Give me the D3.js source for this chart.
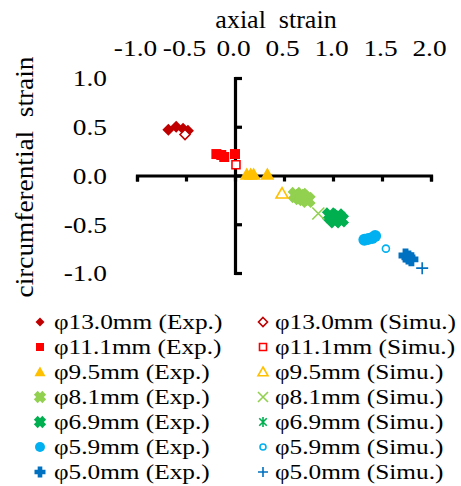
<!DOCTYPE html>
<html><head><meta charset="utf-8">
<script src="https://cdn.jsdelivr.net/npm/d3@7"></script>
<style>
#c text { font-family: "Liberation Serif", "Times New Roman", serif !important; }
</style>
</head>
<body style="margin:0;background:#fff"><svg id="c" width="461" height="486"></svg>
<script>
const seriesNames = ["φ13.0mm","φ11.1mm","φ9.5mm","φ8.1mm","φ6.9mm","φ5.9mm","φ5.0mm"];
const seriesColors = ["#C00000","#FF0000","#FFC000","#92D050","#00B050","#00B0F0","#0070C0"];
const expShapes = ["diamond","square","triangle","boldX","boldX","circle","boldPlus"];
const simShapes = ["diamond","square","triangle","x","asterisk","circle","plus"];
const expData = [
  [[-0.68,0.47],[-0.60,0.50],[-0.53,0.48],[-0.48,0.46]],
  [[-0.19,0.22],[-0.14,0.21],[-0.11,0.19],[0.00,0.22]],
  [[0.12,0.01],[0.16,0.01],[0.19,0.01],[0.33,0.01]],
  [[0.62,-0.20],[0.66,-0.22],[0.70,-0.23],[0.74,-0.25],[0.68,-0.21]],
  [[0.97,-0.41],[1.01,-0.44],[1.05,-0.42],[1.08,-0.45],[1.02,-0.46]],
  [[1.32,-0.66],[1.36,-0.65],[1.40,-0.64],[1.43,-0.62]],
  [[1.74,-0.82],[1.77,-0.84],[1.80,-0.86]]
];
const simData = [
  [[-0.51,0.42]],
  [[0.01,0.11]],
  [[0.48,-0.185]],
  [[0.85,-0.39]],
  [[1.05,-0.45]],
  [[1.54,-0.75]],
  [[1.91,-0.95]]
];
const xTicks = [-1.0,-0.5,0.0,0.5,1.0,1.5,2.0];
const yTicks = [1.0,0.5,0.0,-0.5,-1.0];
const xTitle = "axial\u00A0 strain";
const yTitle = "circumferential\u00A0 strain";
const expLabel = " (Exp.)";
const simLabel = " (Simu.)";

const FONT = "'Liberation Serif', 'Times New Roman', serif";
const svg = d3.select("#c");
const x = d3.scaleLinear().domain([-1,2]).range([137,431]);
const y = d3.scaleLinear().domain([-1,1]).range([273,78]);
const fmt = d => d3.format(".1f")(d).replace("\u2212","-");

function styleText(sel, size){
  sel.attr("font-family",FONT).style("font-family",FONT).attr("font-size",size).attr("fill","#000");
  return sel;
}

function shapePath(kind, s){
  switch(kind){
    case "diamond": return `M0,${-s}L${s},0L0,${s}L${-s},0Z`;
    case "square": return `M${-s},${-s}H${s}V${s}H${-s}Z`;
    case "triangle": return `M0,${-s}L${s},${s*0.75}L${-s},${s*0.75}Z`;
    case "circle": return `M${s},0A${s},${s},0,1,1,${-s},0A${s},${s},0,1,1,${s},0Z`;
    case "boldX": {
      const w=s*0.45;
      const pts=[[-w,-s],[w,-s],[w,-w],[s,-w],[s,w],[w,w],[w,s],[-w,s],[-w,w],[-s,w],[-s,-w],[-w,-w]];
      const a=Math.PI/4;
      return "M"+pts.map(([px,py])=>[(px*Math.cos(a)-py*Math.sin(a)).toFixed(2),(px*Math.sin(a)+py*Math.cos(a)).toFixed(2)].join(",")).join("L")+"Z";
    }
    case "boldPlus": {
      const w=s*0.42;
      const pts=[[-w,-s],[w,-s],[w,-w],[s,-w],[s,w],[w,w],[w,s],[-w,s],[-w,w],[-s,w],[-s,-w],[-w,-w]];
      return "M"+pts.map(p=>p.join(",")).join("L")+"Z";
    }
    case "x": return `M${-s},${-s}L${s},${s}M${s},${-s}L${-s},${s}`;
    case "plus": return `M${-s},0L${s},0M0,${-s}L0,${s}`;
    case "asterisk": return `M${-s*0.75},${-s*0.75}L${s*0.75},${s*0.75}M${s*0.75},${-s*0.75}L${-s*0.75},${s*0.75}M0,${-s}L0,${s}`;
  }
}
const filledKinds = new Set(["diamond","square","triangle","circle","boldX","boldPlus"]);
const expSize = {diamond:6,square:5,triangle:7,circle:6,boldX:8,boldPlus:7};
const simSize = {diamond:5,square:4,triangle:6,circle:3.5,x:6,asterisk:6,plus:6};
const legExpSize = {diamond:4.5,square:4,triangle:5.5,circle:5,boldX:6,boldPlus:5.5};
const legSimSize = {diamond:4.5,square:3.5,triangle:5,circle:3,x:5,asterisk:5,plus:5};

function drawMarker(g, kind, s, color, filled){
  const p = g.append("path").attr("d", shapePath(kind,s));
  if(filled) p.attr("fill",color).attr("stroke","none");
  else p.attr("fill","#fff").attr("stroke",color).attr("stroke-width",1.6);
  if(!filledKinds.has(kind)) p.attr("fill","none");
}

// axes
const xAxis = svg.append("g").attr("transform",`translate(0,${y(0)})`)
  .call(d3.axisBottom(x).tickValues(xTicks).tickSize(6).tickSizeOuter(6).tickFormat(""));
const yAxis = svg.append("g").attr("transform",`translate(${x(0)},0)`)
  .call(d3.axisRight(y).tickValues(yTicks).tickSize(7).tickSizeOuter(7).tickFormat(""));
[xAxis,yAxis].forEach(a=>{
  a.selectAll("path,line").attr("stroke","#000").attr("stroke-width",3.2);
});

// tick labels
const xLab = svg.append("g").attr("transform","translate(-2,56)")
  .call(d3.axisTop(x).tickValues(xTicks).tickSize(0).tickPadding(0).tickFormat(fmt));
xLab.select(".domain").remove();
xLab.attr("font-family",FONT).attr("font-size",24);
styleText(xLab.selectAll("text"),24).attr("dy",0).attr("y",0).attr("transform","scale(1.14,1)");
const yLab = svg.append("g").attr("transform","translate(107,0)")
  .call(d3.axisLeft(y).tickValues(yTicks).tickSize(0).tickPadding(0).tickFormat(fmt));
yLab.select(".domain").remove();
yLab.attr("font-family",FONT).attr("font-size",24);
styleText(yLab.selectAll("text"),24).attr("x",0).attr("dy","0.33em").attr("transform","scale(1.14,1)");

// titles
styleText(svg.append("text").attr("x",276).attr("y",28).attr("text-anchor","middle").text(xTitle),26);
styleText(svg.append("text").attr("transform","translate(33,177) rotate(-90) scale(1.05,1)").attr("text-anchor","middle").text(yTitle),26);

// data
seriesNames.forEach((n,i)=>{
  const ge = svg.append("g");
  expData[i].forEach(d=>{
    const g = ge.append("g").attr("transform",`translate(${x(d[0])},${y(d[1])})`);
    drawMarker(g, expShapes[i], expSize[expShapes[i]], seriesColors[i], true);
  });
});
seriesNames.forEach((n,i)=>{
  const gs = svg.append("g");
  simData[i].forEach(d=>{
    const g = gs.append("g").attr("transform",`translate(${x(d[0])},${y(d[1])})`);
    drawMarker(g, simShapes[i], simSize[simShapes[i]], seriesColors[i], false);
  });
});

// legend
seriesNames.forEach((n,i)=>{
  const yy = 322 + i*25;
  const g1 = svg.append("g").attr("transform",`translate(40,${yy})`);
  drawMarker(g1, expShapes[i], legExpSize[expShapes[i]], seriesColors[i], true);
  styleText(svg.append("text").attr("transform",`translate(54,${yy}) scale(1.15,1)`).attr("dy","0.33em").text(n+expLabel),22);
  const g2 = svg.append("g").attr("transform",`translate(263,${yy})`);
  drawMarker(g2, simShapes[i], legSimSize[simShapes[i]], seriesColors[i], false);
  styleText(svg.append("text").attr("transform",`translate(275,${yy}) scale(1.15,1)`).attr("dy","0.33em").text(n+simLabel),22);
});
</script></body></html>
